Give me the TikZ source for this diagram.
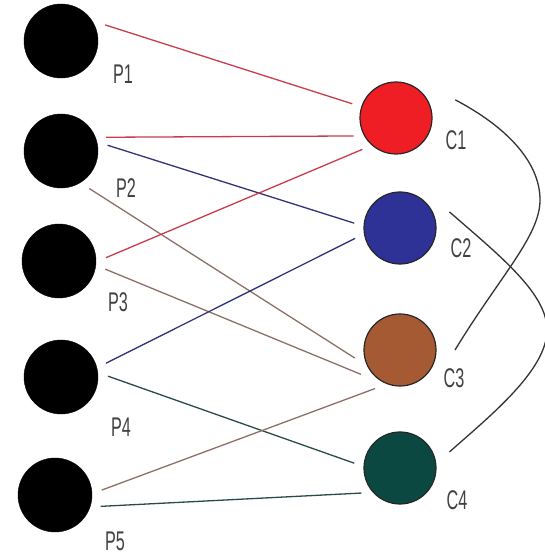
\documentclass[tikz,border=0pt]{standalone}
\usepackage{graphicx}
\usepackage{fontspec}
\setmainfont{Liberation Sans}
\usetikzlibrary{calc}

\definecolor{cred}{RGB}{238,30,36}
\definecolor{cblue}{RGB}{46,50,150}
\definecolor{cbrown}{RGB}{166,90,52}
\definecolor{cteal}{RGB}{12,72,66}
\definecolor{redline}{RGB}{200,60,75}
\definecolor{blueline}{RGB}{50,50,120}
\definecolor{brownline}{RGB}{140,112,104}
\definecolor{tealline}{RGB}{42,74,74}
\definecolor{labelgray}{RGB}{65,65,65}

\newcommand{\thin}[1]{\scalebox{0.6}[1]{#1}}

\begin{document}
\begin{tikzpicture}[x=1pt,y=1pt,
    pnode/.style={circle,fill=black,draw=black,minimum size=74pt,inner sep=0pt,outer sep=10pt},
    cnode/.style={circle,draw=black!85,line width=1.2pt,minimum size=72pt,inner sep=0pt,outer sep=10pt},
    lbl/.style={text=labelgray,font=\fontsize{27}{27}\selectfont,inner sep=0pt},
    link/.style={line width=1.3pt},
    arc/.style={line width=1.3pt,black!80}]

  \useasboundingbox (0,0) rectangle (544,556);

  % left column
  \node[pnode] (p1) at (61,515) {};
  \node[pnode] (p2) at (61,405) {};
  \node[pnode] (p3) at (59,295) {};
  \node[pnode] (p4) at (61,179) {};
  \node[pnode] (p5) at (55,61) {};

  % right column
  \node[cnode,fill=cred] (c1) at (396,438) {};
  \node[cnode,fill=cblue] (c2) at (400,328) {};
  \node[cnode,fill=cbrown] (c3) at (400,206) {};
  \node[cnode,fill=cteal] (c4) at (400,88) {};

  % labels
  \node[lbl] (lp1) at (123,482) {\thin{P1}};
  \node[lbl] (lp2) at (126,368) {\thin{P2}};
  \node[lbl] (lp3) at (118,254) {\thin{P3}};
  \node[lbl] (lp4) at (121,129) {\thin{P4}};
  \node[lbl] (lp5) at (115,15) {\thin{P5}};
  \node[lbl] (lc1) at (456,416) {\thin{C1}};
  \node[lbl] (lc2) at (461,308) {\thin{C2}};
  \node[lbl] (lc3) at (454,178) {\thin{C3}};
  \node[lbl] (lc4) at (457,56) {\thin{C4}};

  % links
  \draw[link,redline] (p1.20) -- (c1.162);
  \draw[link,redline] (p2.17) -- (c1.203);
  \draw[link,blueline] (p2.7) -- (c2.174);
  \draw[link,brownline] (p2.-53) -- (c3.190);
  \draw[link,redline] (p3.4) -- (c1.223);
  \draw[link,brownline] (p3.-10) -- (c3.212);
  \draw[link,blueline] (p4.17) -- (c2.193);
  \draw[link,tealline] (p4.1) -- (c4.174);
  \draw[link,brownline] (p5.6) -- (c3.237);
  \draw[link,tealline] (p5.-14) -- (c4.213);

  % arcs on the right
  \draw[arc] ($(c1)+(17:62)$) .. controls (505,430) and (540,395) .. (540,356)
    .. controls (540,320) and (500,280) .. ($(c3)+(0:55)$);
  \draw[arc] ($(c2)+(18:52)$) .. controls (500,300) and (548,262) .. (547,225)
    .. controls (546,185) and (490,140) .. ($(c4)+(18:52)$);
\end{tikzpicture}
\end{document}
